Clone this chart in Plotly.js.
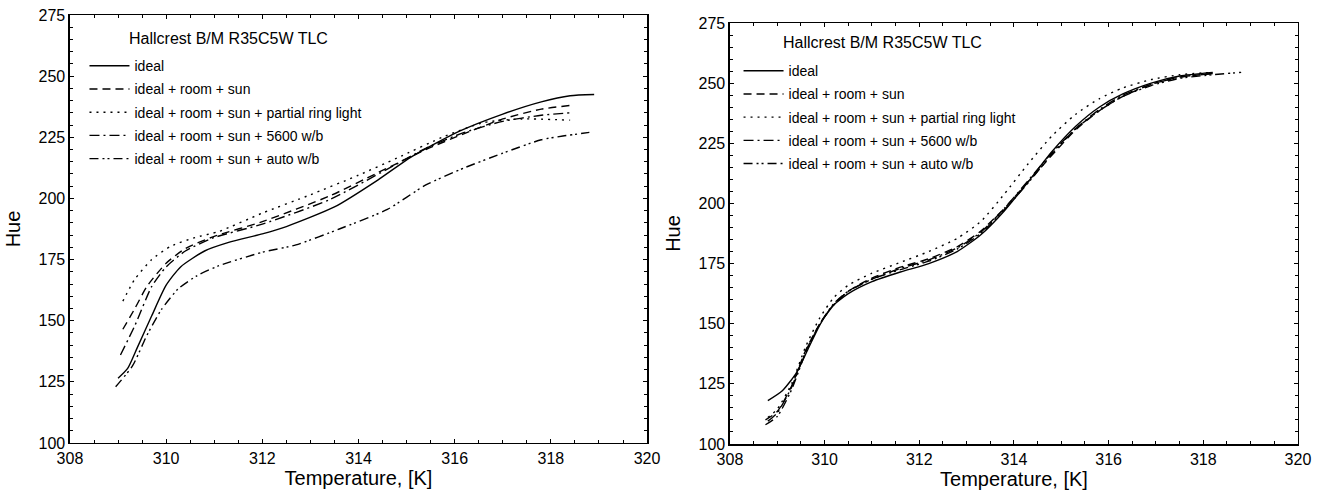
<!DOCTYPE html>
<html>
<head>
<meta charset="utf-8">
<script src="https://cdn.plot.ly/plotly-3.0.1.min.js"></script>
<style>html,body{margin:0;padding:0;background:#fff;}#chart{width:1320px;height:497px;}</style>
</head>
<body>
<div id="chart"></div>
<script>
// ---- Series names ----
const seriesNames = ["ideal", "ideal + room + sun", "ideal + room + sun + partial ring light", "ideal + room + sun + 5600 w/b", "ideal + room + sun + auto w/b"];
const panelTitle = "Hallcrest B/M R35C5W TLC";

// ---- Left panel ----
const idealL_T = [309.0, 309.2, 309.4, 309.7, 310.0, 310.3, 310.8, 311.3, 312.0, 312.5, 313.5, 314.4, 315.1, 316.1, 317.0, 317.8, 318.4, 318.9];
const idealL_H = [126.5, 130.5, 139, 152, 164.5, 172, 178.5, 182, 185.5, 188.5, 196.5, 207.5, 217, 227.5, 234.5, 239.5, 242, 242.5];
const roomL_T = [309.1, 309.35, 309.6, 310.0, 310.4, 311.0, 312.0, 313.4, 314.4, 315.4, 316.2, 317.0, 317.8, 318.4];
const roomL_H = [146.5, 155, 164, 173.5, 179.5, 184.5, 190.5, 201, 210.5, 220, 226.5, 232.5, 236.5, 238];
const ringL_T = [309.1, 309.35, 309.7, 310.1, 310.6, 311.1, 312.0, 313.0, 314.0, 314.8, 315.8, 316.6, 317.4, 318.4];
const ringL_H = [158, 167, 175, 180.5, 184, 186.5, 194, 201.5, 209.5, 216.5, 225.5, 231, 232.5, 232];
const wb5600L_T = [309.05, 309.35, 309.7, 310.0, 310.4, 311.0, 312.0, 313.4, 314.6, 315.4, 316.2, 317.0, 317.8, 318.4];
const wb5600L_H = [136, 148, 164, 172, 178.5, 184, 189.5, 199.5, 212, 220.5, 227, 231.5, 234, 235];
const autoL_T = [308.95, 309.3, 309.6, 309.9, 310.25, 310.65, 311.1, 312.0, 312.7, 313.6, 314.6, 315.4, 316.2, 317.0, 317.8, 318.25, 318.8];
const autoL_H = [123, 131.5, 144, 154.5, 163, 168.5, 172.5, 178, 181, 187.5, 195.5, 205.5, 212.5, 218.5, 224, 225.5, 227];

// ---- Right panel ----
const idealR_T = [308.8, 309.1, 309.4, 309.65, 309.9, 310.15, 310.5, 311.0, 311.6, 312.2, 312.8, 313.3, 313.8, 314.3, 314.8, 315.3, 315.8, 316.3, 316.9, 317.5, 318.2];
const idealR_H = [118, 122, 129.5, 139.5, 149.5, 157, 162.5, 167.5, 171.5, 175, 180, 187, 197, 209, 221.5, 232, 240, 245.5, 250, 253, 254.5];
const roomR_T = [308.75, 309.0, 309.3, 309.6, 309.9, 310.2, 310.5, 311.0, 311.6, 312.2, 312.8, 313.3, 313.8, 314.3, 314.8, 315.3, 315.8, 316.3, 316.9, 317.5, 318.2];
const roomR_H = [110, 113.5, 124, 139, 150, 158, 163.5, 169, 173.5, 177, 182, 188.5, 198, 209, 220, 230.5, 238.5, 244.5, 249.5, 252.5, 254];
const ringR_T = [308.8, 309.0, 309.3, 309.6, 309.9, 310.2, 310.5, 311.0, 311.6, 312.2, 312.8, 313.3, 313.8, 314.3, 314.8, 315.3, 315.8, 316.3, 316.9, 317.5, 318.2];
const ringR_H = [111, 114.5, 125, 140.5, 152.5, 161, 166, 171, 175.5, 180, 185.5, 192.5, 204, 216.5, 228, 237, 243.5, 248, 251.5, 253.5, 254.5];
const wb5600R_T = [308.8, 309.0, 309.3, 309.6, 309.9, 310.2, 310.5, 311.0, 311.6, 312.2, 312.8, 313.3, 313.8, 314.3, 314.8, 315.3, 315.8, 316.3, 316.9, 317.5, 318.2];
const wb5600R_H = [109.5, 113, 123.5, 138.5, 150, 158, 163.5, 168.5, 173, 176.5, 181.5, 188, 198, 209.5, 221, 231, 239, 245, 249.5, 252.5, 254];
const autoR_T = [308.75, 309.0, 309.3, 309.6, 309.9, 310.2, 310.5, 311.0, 311.6, 312.2, 312.8, 313.3, 313.8, 314.3, 314.8, 315.3, 315.8, 316.3, 316.9, 317.5, 318.2, 318.8];
const autoR_H = [108, 111.5, 122.5, 138, 150, 158.5, 163.5, 168.5, 172.5, 176, 181, 187.5, 197.5, 208.5, 220.5, 231, 238.5, 244.5, 249, 252, 253.5, 254.5];

const dashes = ["solid", "8px,5px", "2px,5px", "10px,4px,2px,4px", "9px,4px,2px,3px,2px,4px"];
const font = "Liberation Sans, Arial, sans-serif";
const ink = "#000";

function tr(x, y, i, xa, ya, lg) {
  return {x: x, y: y, type: "scatter", mode: "lines", name: seriesNames[i],
    xaxis: xa, yaxis: ya, legend: lg, legendgroup: lg + "_" + i,
    line: {color: ink, width: 1.4, dash: dashes[i], shape: "spline", smoothing: 0.6}};
}

const data = [
  tr(idealL_T, idealL_H, 0, "x", "y", "legend"),
  tr(roomL_T, roomL_H, 1, "x", "y", "legend"),
  tr(ringL_T, ringL_H, 2, "x", "y", "legend"),
  tr(wb5600L_T, wb5600L_H, 3, "x", "y", "legend"),
  tr(autoL_T, autoL_H, 4, "x", "y", "legend"),
  tr(idealR_T, idealR_H, 0, "x2", "y2", "legend2"),
  tr(roomR_T, roomR_H, 1, "x2", "y2", "legend2"),
  tr(ringR_T, ringR_H, 2, "x2", "y2", "legend2"),
  tr(wb5600R_T, wb5600R_H, 3, "x2", "y2", "legend2"),
  tr(autoR_T, autoR_H, 4, "x2", "y2", "legend2")
];

function xax(dom, anchor) {
  return {domain: dom, anchor: anchor, range: [308, 320], dtick: 2, tick0: 308,
    showgrid: false, zeroline: false, showline: true, linecolor: ink, linewidth: 1.5, mirror: "ticks",
    ticks: "inside", ticklen: 4, tickcolor: ink, tickwidth: 1,
    minor: {dtick: 0.5, ticks: "inside", ticklen: 3, tickcolor: ink, showgrid: false},
    tickfont: {family: font, size: 16, color: ink},
    title: {text: "Temperature, [K]", font: {family: font, size: 20, color: ink}, standoff: 3}};
}
function yax(dom, anchor) {
  return {domain: dom, anchor: anchor, range: [100, 275], dtick: 25, tick0: 100,
    showgrid: false, zeroline: false, showline: true, linecolor: ink, linewidth: 1.5, mirror: "ticks",
    ticks: "inside", ticklen: 4, tickcolor: ink, tickwidth: 1,
    minor: {dtick: 5, ticks: "inside", ticklen: 3, tickcolor: ink, showgrid: false},
    tickfont: {family: font, size: 16, color: ink},
    title: {text: "Hue", font: {family: font, size: 20, color: ink}, standoff: 12}};
}

const legendStyle = {font: {family: font, size: 14, color: ink}, bgcolor: "rgba(0,0,0,0)",
  borderwidth: 0, xanchor: "left", yanchor: "top", tracegroupgap: 2, itemwidth: 40};

const layout = {
  width: 1320, height: 497,
  margin: {l: 0, r: 0, t: 0, b: 0},
  paper_bgcolor: "#fff", plot_bgcolor: "#fff",
  showlegend: true,
  xaxis: xax([0.0530, 0.4902], "y"),
  yaxis: yax([0.1087, 0.9698], "x"),
  xaxis2: xax([0.5530, 0.9833], "y2"),
  yaxis2: yax([0.1066, 0.9537], "x2"),
  legend: Object.assign({x: 0.064, y: 0.899}, legendStyle),
  legend2: Object.assign({x: 0.5595, y: 0.889}, legendStyle),
  annotations: [
    {text: panelTitle, xref: "paper", yref: "paper", x: 0.0962, y: 0.9235, xanchor: "left", yanchor: "middle",
     showarrow: false, font: {family: font, size: 16, color: ink}},
    {text: panelTitle, xref: "paper", yref: "paper", x: 0.5917, y: 0.914, xanchor: "left", yanchor: "middle",
     showarrow: false, font: {family: font, size: 16, color: ink}}
  ]
};

Plotly.newPlot("chart", data, layout, {displayModeBar: false, staticPlot: true});
</script>
</body>
</html>
